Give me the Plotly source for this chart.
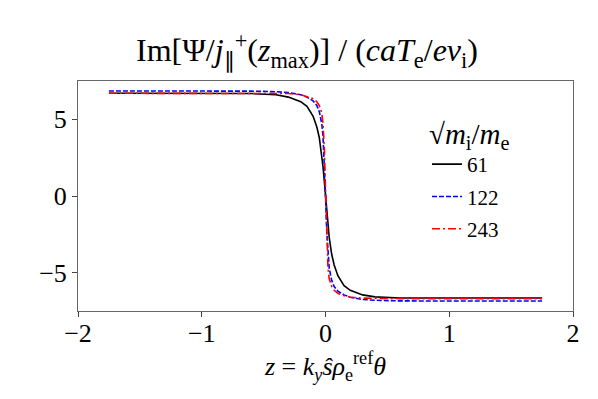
import plotly.graph_objects as go

# z grid (dense near the jump at z = 0)
z = [-1.75, -1.0, -0.6, -0.4, -0.3, -0.2, -0.15, -0.1, -0.07, -0.05, -0.03, -0.02, -0.01, 0.0,
     0.01, 0.02, 0.03, 0.05, 0.07, 0.1, 0.15, 0.2, 0.3, 0.4, 0.6, 1.0, 1.75]

# Im[Psi / j_par(zmax)] for each sqrt(mi/me)
psi_61 = [6.70, 6.70, 6.68, 6.60, 6.45, 6.15, 5.85, 5.20, 4.50, 3.80, 2.70, 1.90, 1.00, 0.0,
          -1.00, -1.90, -2.70, -3.80, -4.50, -5.20, -5.85, -6.15, -6.45, -6.58, -6.65, -6.65, -6.65]
psi_122 = [6.85, 6.85, 6.84, 6.80, 6.75, 6.60, 6.45, 6.20, 5.90, 5.50, 4.70, 3.90, 2.30, 0.0,
           -2.30, -3.90, -4.70, -5.50, -5.90, -6.20, -6.45, -6.60, -6.75, -6.80, -6.84, -6.85, -6.85]
psi_243 = [6.70, 6.70, 6.70, 6.69, 6.68, 6.60, 6.50, 6.35, 6.15, 5.90, 5.40, 4.70, 3.20, 0.0,
           -3.20, -4.70, -5.40, -5.90, -6.15, -6.35, -6.50, -6.60, -6.66, -6.68, -6.69, -6.70, -6.70]

labels = ['61', '122', '243']
series = [psi_61, psi_122, psi_243]
colors = ['black', 'blue', 'red']
dashes = ['solid', '5px,2px', '8px,3px,2px,3px']

FONT = 'Liberation Serif'

fig = go.Figure()
for lab, ys, c, d in zip(labels, series, colors, dashes):
    fig.add_trace(go.Scatter(x=z, y=ys, mode='lines', name=lab, legendgroup=lab,
                             line=dict(color=c, dash=d, width=1.6)))

fig.update_layout(
    width=598, height=399,
    plot_bgcolor='white', paper_bgcolor='white',
    margin=dict(l=70, r=33, t=73, b=96),
    font=dict(family=FONT, size=26, color='black'),
    title=dict(
        text='Im[Ψ/<i>j</i><sub>∥</sub><sup>+</sup>(<i>z</i><sub>max</sub>)] / '
             '(<i>caT</i><sub>e</sub>/<i>ev</i><sub>i</sub>)',
        x=0.5, xanchor='center', y=0.895, yanchor='middle',
        font=dict(family=FONT, size=32)),
    legend=dict(
        title=dict(text='√<i>m</i><sub>i</sub>/<i>m</i><sub>e</sub>',
                   font=dict(size=29), side='top'),
        x=0.705, y=0.89, xanchor='left', yanchor='top',
        bgcolor='rgba(255,255,255,0)', font=dict(size=21),
        itemwidth=30, tracegroupgap=2),
    showlegend=True,
)
fig.update_xaxes(range=[-2, 2], tickvals=[-2, -1, 0, 1, 2], showgrid=False, zeroline=False,
                 showline=True, linecolor='#666', linewidth=1, mirror=True,
                 ticks='outside', ticklen=5, tickcolor='#444', ticklabelstandoff=-6,
                 title=dict(text='<i>z</i> = <i>k</i><sub><i>y</i></sub><i>ŝρ</i><sub>e</sub><sup>ref</sup><i>θ</i>',
                            font=dict(size=26), standoff=0))
fig.update_yaxes(range=[-7.5, 7.5], tickvals=[-5, 0, 5], showgrid=False, zeroline=False,
                 showline=True, linecolor='#666', linewidth=1, mirror=True,
                 ticks='outside', ticklen=5, tickcolor='#444')

fig.write_html('out.html')
